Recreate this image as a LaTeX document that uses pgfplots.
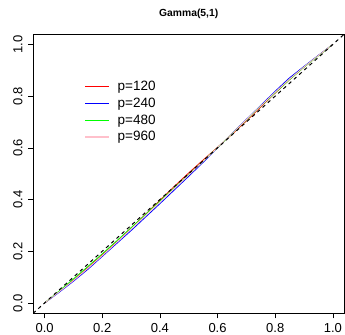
\documentclass[border=0pt]{standalone}
\usepackage{fontspec}
\setmainfont{Liberation Sans}
\usepackage{pgfplots}
\pgfplotsset{compat=1.18}
\definecolor{rred}{HTML}{FF0000}
\definecolor{rblue}{HTML}{0000FF}
\definecolor{rgreen}{HTML}{00FF00}
\definecolor{rpink}{HTML}{FFC0CB}
\begin{document}
\begin{tikzpicture}
\begin{axis}[
  scale only axis,
  width=311pt, height=279pt,
  xmin=-0.04, xmax=1.04, ymin=-0.04, ymax=1.04,
  axis line style={black, line width=0.8pt},
  xtick={0,0.2,0.4,0.6,0.8,1.0},
  ytick={0,0.2,0.4,0.6,0.8,1.0},
  xticklabels={0.0,0.2,0.4,0.6,0.8,1.0},
  yticklabels={0.0,0.2,0.4,0.6,0.8,1.0},
  tick align=outside,
  major tick length=5pt,
  tick style={black, line width=0.6pt},
  xtick pos=bottom, ytick pos=left,
  ticklabel style={font=\fontsize{13}{15}\selectfont},
  yticklabel style={rotate=90, anchor=south, yshift=2pt},
  xticklabel style={anchor=north, yshift=-2pt},
  /pgf/number format/assume math mode=true,
  title={Gamma(5,1)},
  title style={at={(0.5,1)}, anchor=south, yshift=9pt, inner sep=0pt, font=\bfseries\fontsize{10.3}{12}\selectfont},
  legend style={at={(axis cs:0.138,0.862)}, anchor=north west, draw=none, fill=none,
    font=\fontsize{13.5}{15}\selectfont, row sep=3.8pt, column sep=8pt, inner sep=0pt,
    nodes={inner sep=1pt}},
  legend cell align=left,
  legend image code/.code={\fill[#1, draw=none] (0pt,-0.6pt) rectangle (24pt,0.6pt);},
]
\addplot[color=rred, line width=0.8pt, no marks] coordinates {(0,0) (0.05,0.044) (0.1,0.089) (0.15,0.137) (0.2,0.187) (0.25,0.237) (0.3,0.290) (0.35,0.343) (0.4,0.397) (0.45,0.451) (0.5,0.503) (0.55,0.553) (0.6,0.602) (0.65,0.652) (0.7,0.704) (0.75,0.758) (0.8,0.812) (0.85,0.864) (0.9,0.912) (0.95,0.957) (1,1)};
\addlegendentry{p=120}
\addplot[color=rblue, line width=0.8pt, no marks] coordinates {(0,0) (0.05,0.041) (0.1,0.084) (0.15,0.130) (0.2,0.180) (0.25,0.230) (0.3,0.280) (0.35,0.332) (0.4,0.384) (0.45,0.437) (0.5,0.490) (0.55,0.544) (0.6,0.600) (0.65,0.656) (0.7,0.710) (0.75,0.764) (0.8,0.819) (0.85,0.871) (0.9,0.915) (0.95,0.958) (1,1)};
\addlegendentry{p=240}
\addplot[color=rgreen, line width=0.8pt, no marks] coordinates {(0,0) (0.05,0.046) (0.1,0.093) (0.15,0.141) (0.2,0.190) (0.25,0.240) (0.3,0.291) (0.35,0.342) (0.4,0.394) (0.45,0.446) (0.5,0.497) (0.55,0.549) (0.6,0.601) (0.65,0.654) (0.7,0.708) (0.75,0.761) (0.8,0.813) (0.85,0.864) (0.9,0.912) (0.95,0.956) (1,1)};
\addlegendentry{p=480}
\addplot[color=rpink, line width=0.8pt, no marks] coordinates {(0,0) (0.05,0.043) (0.1,0.087) (0.15,0.134) (0.2,0.183) (0.25,0.234) (0.3,0.286) (0.35,0.338) (0.4,0.390) (0.45,0.443) (0.5,0.495) (0.55,0.548) (0.6,0.601) (0.65,0.655) (0.7,0.709) (0.75,0.762) (0.8,0.815) (0.85,0.866) (0.9,0.913) (0.95,0.957) (1,1)};
\addlegendentry{p=960}
\addplot[black, dash pattern=on 3.5pt off 3.5pt, line width=1pt, no marks, forget plot] coordinates {(-0.04,-0.04) (1.04,1.04)};
\end{axis}
\pgfresetboundingbox
\path (current axis.south west) ++(-33pt,-21pt) coordinate (bbA);
\path (current axis.north east) ++(0.6pt,34pt) coordinate (bbB);
\useasboundingbox (bbA) rectangle (bbB);
\end{tikzpicture}
\end{document}
